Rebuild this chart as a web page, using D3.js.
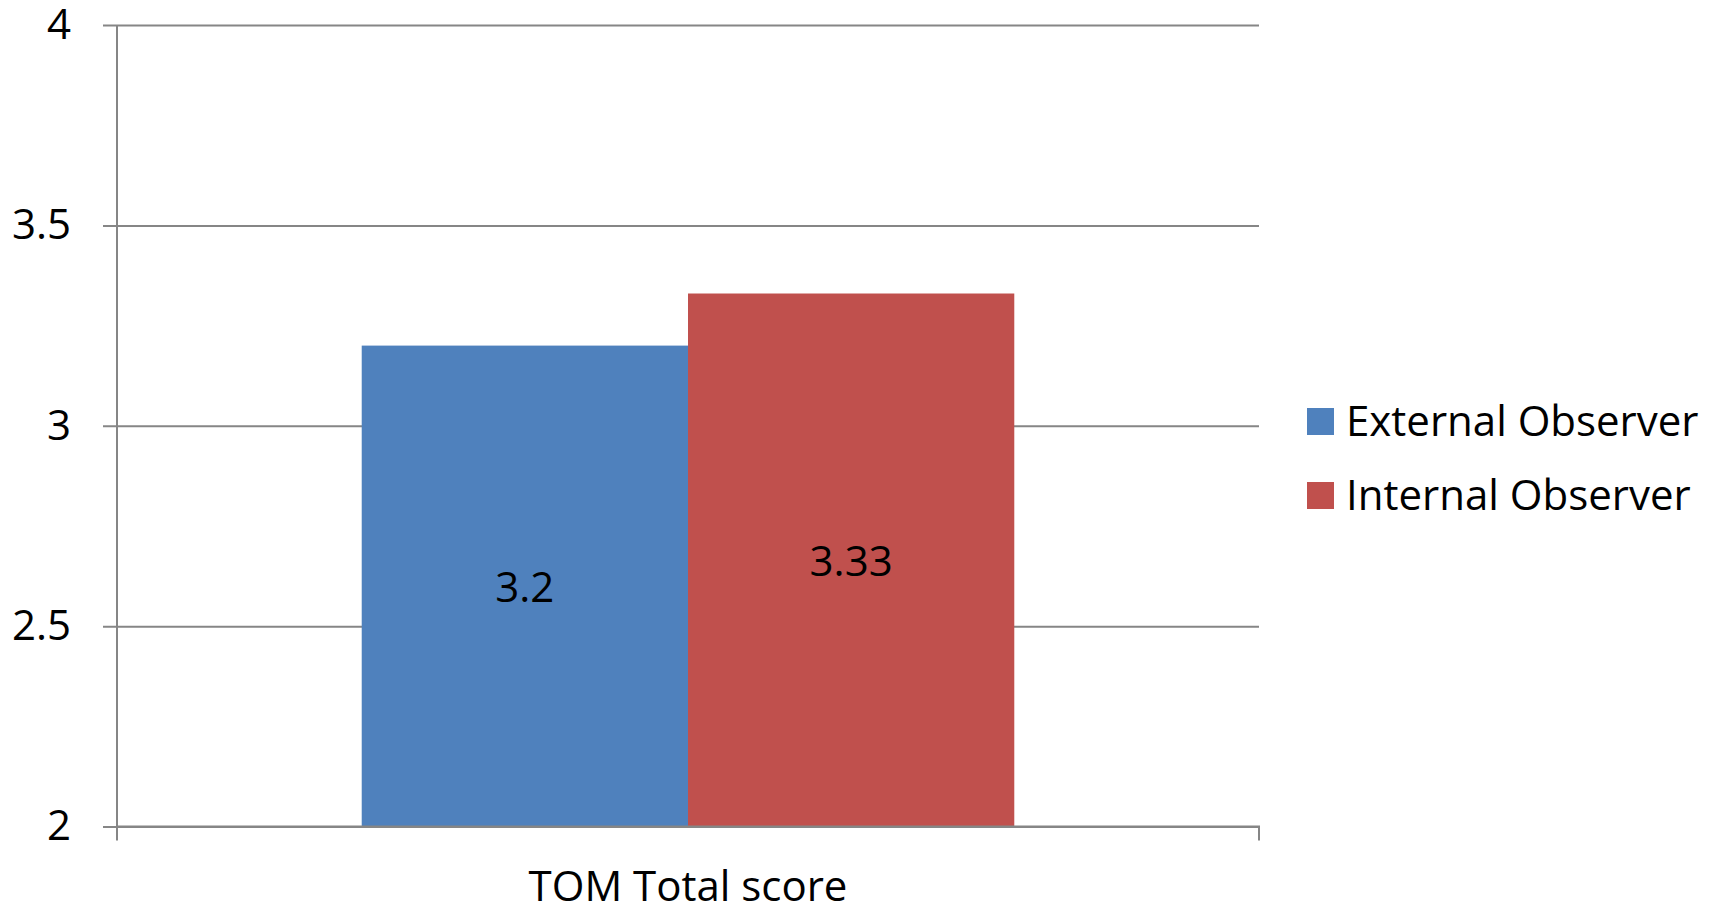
<!DOCTYPE html>
<html>
<head>
<meta charset="utf-8">
<script src="https://cdn.jsdelivr.net/npm/d3@7"></script>
<style>
  html, body { margin: 0; padding: 0; background: #ffffff; }
  svg { display: block; font-family: "Open Sans", "Noto Sans", sans-serif; }
</style>
</head>
<body>
<svg id="chart" width="1715" height="907"></svg>
<script>
// Chart data
const categories = ["TOM Total score"];
const seriesNames = ["External Observer", "Internal Observer"];
const seriesValues = [[3.2], [3.33]];
const seriesColors = ["#4F81BD", "#C0504D"];
const yTicks = [2, 2.5, 3, 3.5, 4];
const yTickLabels = ["2", "2.5", "3", "3.5", "4"];

const svg = d3.select("#chart");
const plot = { left: 117, right: 1259, top: 25, bottom: 826.5 };
const fontSize = 42;

const x = d3.scaleBand()
  .domain(categories)
  .range([plot.left, plot.right])
  .paddingInner(0)
  .paddingOuter(0);

const y = d3.scaleLinear()
  .domain([2, 4])
  .range([plot.bottom, plot.top]);

// Excel-style gap width of 75% around each cluster
const gapRatio = 0.75;
const groupWidth = x.bandwidth() / (1 + gapRatio);
const xs = d3.scaleBand()
  .domain(seriesNames)
  .range([0, groupWidth]);

const gridColor = "#868686";

// Horizontal gridlines with outer tick marks on the value axis
const yAxis = d3.axisLeft(y)
  .tickValues(yTicks)
  .tickFormat((d, i) => yTickLabels[i])
  .tickSize(-(plot.right - plot.left))
  .tickPadding(46);

const gy = svg.append("g")
  .attr("transform", `translate(${plot.left},0)`)
  .call(yAxis);
gy.select(".domain").remove();
gy.selectAll(".tick line")
  .attr("x1", -14)
  .attr("stroke", gridColor)
  .attr("stroke-width", 2);
gy.selectAll(".tick text")
  .attr("fill", "#000")
  .attr("font-size", fontSize)
  .attr("font-family", "Open Sans, sans-serif");

// Bars
const groups = svg.append("g").selectAll("g")
  .data(categories)
  .join("g")
  .attr("transform", d => `translate(${x(d) + (x.bandwidth() - groupWidth) / 2},0)`);

const barData = (cat, ci) => seriesNames.map((s, si) => ({ series: s, value: seriesValues[si][ci], color: seriesColors[si] }));

groups.each(function (cat, ci) {
  const g = d3.select(this);
  const data = barData(cat, ci);
  g.selectAll("rect")
    .data(data)
    .join("rect")
    .attr("x", d => xs(d.series))
    .attr("width", xs.bandwidth())
    .attr("y", d => y(d.value))
    .attr("height", d => y(2) - y(d.value))
    .attr("fill", d => d.color);
  g.selectAll("text.value")
    .data(data)
    .join("text")
    .attr("class", "value")
    .attr("x", d => xs(d.series) + xs.bandwidth() / 2)
    .attr("y", d => (y(d.value) + y(2)) / 2)
    .attr("dy", "0.38em")
    .attr("text-anchor", "middle")
    .attr("font-size", fontSize)
    .attr("fill", "#000")
    .text(d => d.value);
});

// Vertical value axis line
svg.append("line")
  .attr("x1", plot.left).attr("x2", plot.left)
  .attr("y1", plot.top).attr("y2", plot.bottom + 14)
  .attr("stroke", gridColor).attr("stroke-width", 2);

// Category axis with boundary tick marks
const xAxis = d3.axisBottom(x).tickSize(0).tickPadding(45);
const gx = svg.append("g")
  .attr("transform", `translate(0,${plot.bottom})`)
  .call(xAxis);
gx.select(".domain").attr("stroke", gridColor).attr("stroke-width", 2)
  .attr("d", `M${plot.left},0H${plot.right}V14`);
gx.selectAll(".tick text")
  .attr("fill", "#000")
  .attr("font-size", fontSize)
  .attr("font-family", "Open Sans, sans-serif");

// Legend
const legend = svg.append("g").attr("transform", "translate(1307,408)");
const items = legend.selectAll("g")
  .data(seriesNames)
  .join("g")
  .attr("transform", (d, i) => `translate(0,${i * 74})`);
items.append("rect")
  .attr("width", 27).attr("height", 27)
  .attr("fill", (d, i) => seriesColors[i]);
items.append("text")
  .attr("x", 39).attr("y", 13.5).attr("dy", "0.35em")
  .attr("font-size", fontSize)
  .attr("fill", "#000")
  .text(d => d);
</script>
</body>
</html>
